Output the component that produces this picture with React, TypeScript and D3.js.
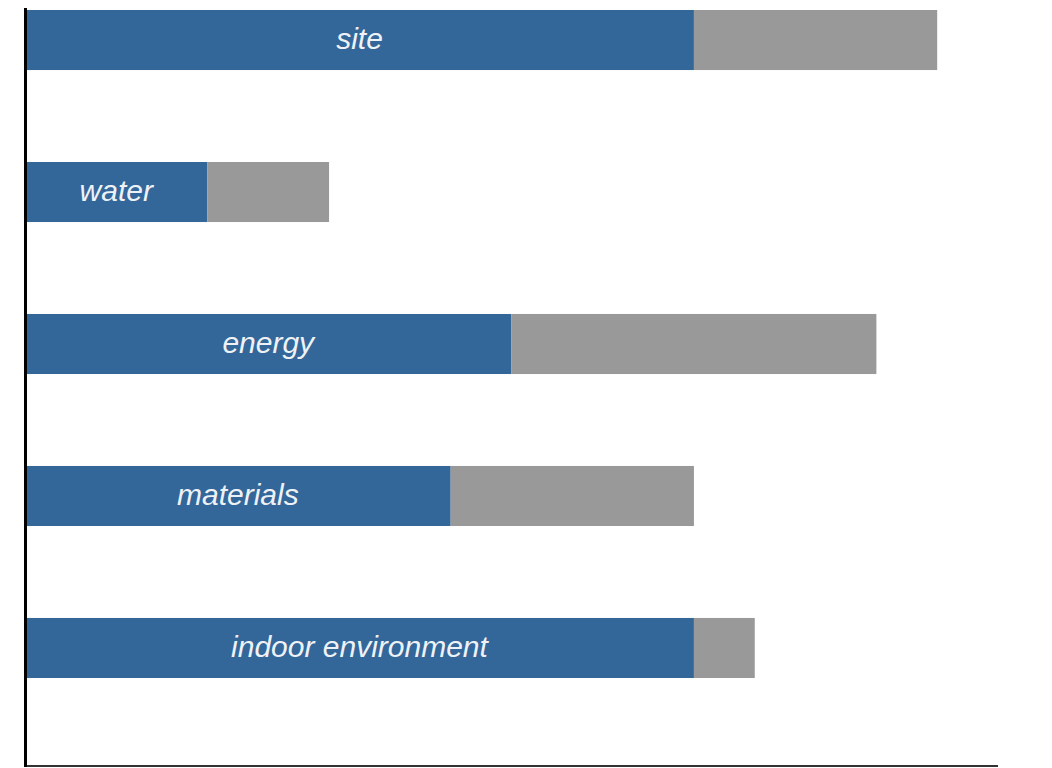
import React from "react";
import * as d3 from "d3";

const categories = ["site", "water", "energy", "materials", "indoor environment"];
const achieved = [11, 3, 8, 7, 11];
const remaining = [4, 2, 6, 4, 1];
const maxValue = 16;

const W = 1052;
const H = 768;

export default function App() {
  const x = d3.scaleLinear().domain([0, maxValue]).range([25, 998]);
  const y = d3
    .scaleBand<string>()
    .domain(categories)
    .range([10, 678])
    .paddingInner(0.605)
    .paddingOuter(0);

  const blue = "#336699";
  const gray = "#999999";

  return (
    <svg
      width={W}
      height={H}
      style={{ position: "absolute", left: 0, top: 0, background: "#fff" }}
      fontFamily="'Liberation Sans', Arial, sans-serif"
    >
      {categories.map((c, i) => {
        const y0 = y(c)!;
        const bw = y.bandwidth();
        const a = achieved[i];
        const r = remaining[i];
        return (
          <g key={c}>
            <rect x={x(0)} y={y0} width={x(a) - x(0)} height={bw} fill={blue} />
            <rect x={x(a)} y={y0} width={x(a + r) - x(a)} height={bw} fill={gray} />
            <text
              x={(x(0) + x(a)) / 2}
              y={y0 + bw / 2}
              dy="0.31em"
              textAnchor="middle"
              fontStyle="italic"
              fontSize={30}
              fill="#eef2f7"
            >
              {c}
            </text>
          </g>
        );
      })}
      <line x1={x(0)} x2={x(maxValue)} y1={766} y2={766} stroke="#333" strokeWidth={2} />
      <line x1={25.5} x2={25.5} y1={8} y2={767} stroke="#000" strokeWidth={3} />
    </svg>
  );
}
